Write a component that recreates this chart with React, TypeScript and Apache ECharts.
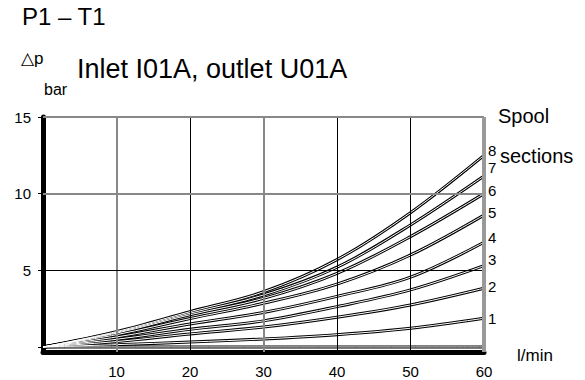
import React, { useEffect, useRef } from "react";
import * as echarts from "echarts";

const flows = [0, 10, 20, 30, 40, 50, 60];
const spool0 = [0, 0, 0, 0, 0, 0, 0];
const spool1 = [0, 0.15, 0.32, 0.52, 0.8, 1.22, 1.87];
const spool2 = [0, 0.35, 0.85, 1.3, 1.94, 2.74, 3.83];
const spool3 = [0, 0.5, 1.15, 1.7, 2.63, 3.72, 5.3];
const spool4 = [0, 0.65, 1.5, 2.25, 3.3, 4.55, 6.83];
const spool5 = [0, 0.8, 1.85, 2.85, 4.1, 6.0, 8.6];
const spool6 = [0, 0.9, 2.1, 3.17, 4.8, 7.2, 10.0];
const spool7 = [0, 0.95, 2.2, 3.39, 5.2, 7.96, 11.15];
const spool8 = [0, 1.0, 2.3, 3.6, 5.7, 8.76, 12.5];
const spoolNames = ["1", "2", "3", "4", "5", "6", "7", "8"];
const spoolSeries = [spool1, spool2, spool3, spool4, spool5, spool6, spool7, spool8];

const xTickLabels = [10, 20, 30, 40, 50, 60];
const yTickLabels = [5, 10, 15];
const yTicks = [0, 5, 10, 15];
const xGridLines = [10, 20, 30, 40, 50];
const yGridLines = [5, 10];

const title = "P1 – T1";
const subtitle = "Inlet I01A, outlet U01A";
const xUnit = "l/min";
const yName = "△p";
const yUnit = "bar";

// styling only
const labelDy = [0, -2, -6, -5, -3, -3, -9, -5];
const xGridColors = ["#888", "#000", "#888", "#000", "#000"];
const xGridWidths = [2, 1, 2, 1, 1];
const yGridColors = ["#000", "#888"];
const yGridWidths = [1, 2];

const NARROW = "'Liberation Sans Narrow', 'Liberation Sans', Arial, sans-serif";
const ARIAL = "'Liberation Sans', Arial, sans-serif";

export default function App() {
  const ref = useRef<HTMLDivElement>(null);
  useEffect(() => {
    document.body.style.margin = "0";
    const chart = echarts.init(ref.current!, null, { renderer: "svg" });
    const pair = (arr: number[]) => flows.map((f, i) => [f, arr[i]]);
    const series: any[] = [];
    series.push({
      type: "line",
      data: [],
      z: 1,
      clip: false,
      silent: true,
      markLine: {
        silent: true,
        symbol: ["none", "none"],
        label: { show: false },
        animation: false,
        data: [
          ...xGridLines.map((v, i) => ({ xAxis: v, lineStyle: { color: xGridColors[i], width: xGridWidths[i], type: "solid" } })),
          ...yGridLines.map((v, i) => ({ yAxis: v, lineStyle: { color: yGridColors[i], width: yGridWidths[i], type: "solid" } })),
          { yAxis: 15, lineStyle: { color: "#888", width: 2, type: "solid" } },
          { xAxis: 60, lineStyle: { color: "#999", width: 4, type: "solid" } },
        ],
      },
    });
    const all = [spool0, ...spoolSeries];
    all.forEach((arr) => {
      series.push({
        type: "line",
        data: pair(arr),
        smooth: 0.35,
        symbol: "none",
        z: 2,
        lineStyle: { color: "#000", width: 3 },
        silent: true,
      });
    });
    all.forEach((arr, k) => {
      const idx = k - 1;
      series.push({
        type: "line",
        name: k === 0 ? "0" : spoolNames[idx],
        data: pair(arr),
        smooth: 0.35,
        symbol: "none",
        z: 3,
        lineStyle: { color: "#fff", width: 1 },
        silent: true,
        endLabel: k === 0 ? { show: false } : {
          show: true,
          formatter: spoolNames[idx],
          distance: 4,
          offset: [0, labelDy[idx]],
          fontFamily: NARROW,
          fontSize: 15,
          color: "#000",
        },
      });
    });
    chart.setOption({
      animation: false,
      backgroundColor: "#fff",
      grid: { left: 43, right: 101, top: 117, bottom: 28 },
      xAxis: {
        type: "value",
        min: 0,
        max: 60,
        interval: 10,
        axisLine: { show: true, onZero: false, lineStyle: { color: "#000", width: 5 } },
        axisTick: { show: false },
        splitLine: { show: false },
        axisLabel: {
          customValues: xTickLabels,
          margin: 12,
          fontFamily: NARROW,
          fontSize: 15,
          color: "#000",
        },
      },
      yAxis: {
        type: "value",
        min: -0.33,
        max: 15,
        axisLine: { show: true, onZero: false, lineStyle: { color: "#000", width: 5 } },
        axisTick: { show: true, customValues: yTicks, length: 5, lineStyle: { color: "#000", width: 1 } },
        splitLine: { show: false },
        axisLabel: {
          customValues: yTickLabels,
          margin: 12,
          fontFamily: NARROW,
          fontSize: 15,
          color: "#000",
        },
      },
      graphic: [
        { type: "text", left: 22, top: 4, style: { text: title, font: `24px ${ARIAL}`, fill: "#000" } },
        { type: "text", left: 77, top: 55, style: { text: subtitle, font: `27px ${ARIAL}`, fill: "#000" } },
        { type: "text", left: 21, top: 50, style: { text: yName, font: `17px ${NARROW}`, fill: "#000" } },
        { type: "text", left: 44, top: 81, style: { text: yUnit, font: `16px ${NARROW}`, fill: "#000" } },
        { type: "text", left: 517, top: 347, style: { text: xUnit, font: `17px ${NARROW}`, fill: "#000" } },
        { type: "text", left: 498, top: 106, style: { text: "Spool", font: `20px ${ARIAL}`, fill: "#000" } },
        { type: "text", left: 500, top: 146, style: { text: "sections", font: `20px ${ARIAL}`, fill: "#000" } },
      ],
      series,
    });
    return () => chart.dispose();
  }, []);
  return <div ref={ref} style={{ width: 585, height: 380 }} />;
}
